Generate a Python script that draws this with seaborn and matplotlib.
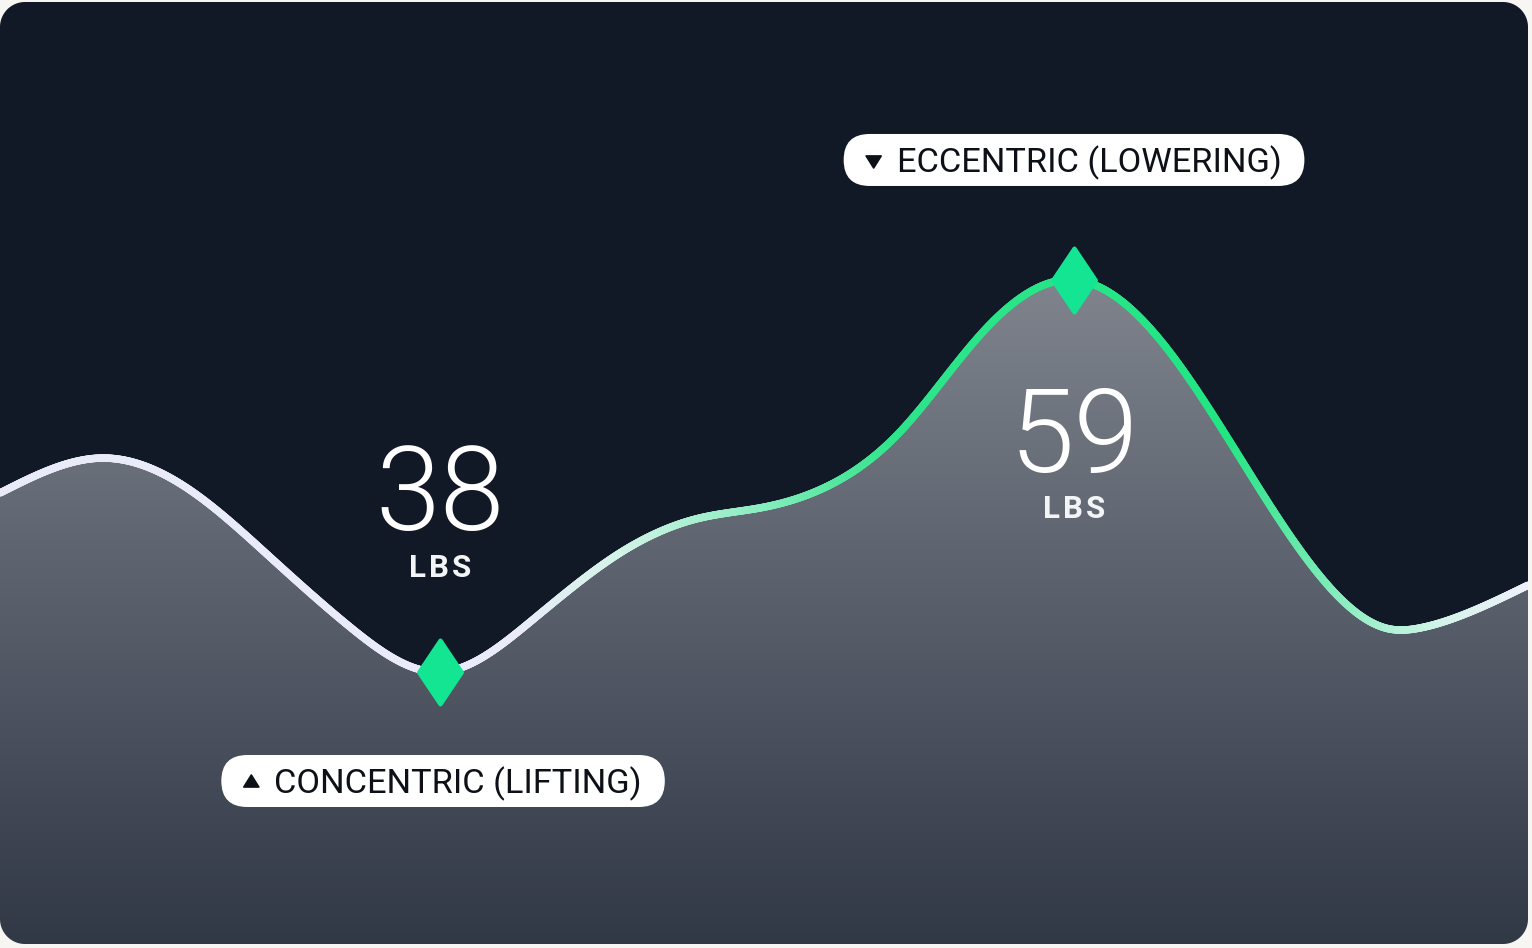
import numpy as np
import pandas as pd
import matplotlib
matplotlib.use("Agg")
import matplotlib.pyplot as plt
import seaborn as sns
from matplotlib.collections import LineCollection
from matplotlib.colors import LinearSegmentedColormap
from matplotlib.path import Path
from matplotlib.patches import PathPatch, FancyBboxPatch, Polygon
from matplotlib.transforms import IdentityTransform

# ---------------- data ----------------
rep_progress = [0.00, 6.74, 12.43, 17.67, 22.91, 28.80, 34.69, 40.58, 45.81, 49.74,
                54.32, 58.90, 64.14, 70.29, 75.92, 81.81, 86.39, 90.97, 92.93, 95.55,
                100.00]
load_lbs = [47.59, 49.46, 47.75, 44.16, 40.41, 38.00, 40.68, 44.38, 46.25, 46.79,
            48.02, 50.86, 56.05, 59.00, 55.79, 48.61, 43.14, 40.30, 40.36, 41.00,
            42.65]

phase_labels = ["CONCENTRIC (LIFTING)", "ECCENTRIC (LOWERING)"]
phase_x = [28.80, 70.29]
phase_lbs = [38, 59]
phase_dir = ["up", "down"]
unit_label = "LBS"

# ---------------- style ----------------
sns.set_theme(style="white")
plt.rcParams["font.family"] = ["Roboto", "DejaVu Sans"]

NAVY = "#111927"
OUTSIDE = "#f7f6f3"
GREEN_MARK = "#14e592"

W, H = 1532, 948
fig = plt.figure(figsize=(W / 100, H / 100), dpi=100)
fig.patch.set_facecolor(OUTSIDE)

card_l, card_r, card_b, card_t = 0, 1528, 4, 946
ax = fig.add_axes([card_l / W, card_b / H, (card_r - card_l) / W, (card_t - card_b) / H])
ax.set_facecolor(NAVY)
XLIM, YLIM = (0, 100), (23.43, 73.89)
ax.set_xlim(*XLIM)
ax.set_ylim(*YLIM)
sns.despine(ax=ax, left=True, bottom=True, top=True, right=True)
ax.set_xticks([])
ax.set_yticks([])


# natural cubic spline through the read points (smooth rendering of the line)
def cspline(x, y, n=2000):
    x = np.asarray(x, float)
    y = np.asarray(y, float)
    k = len(x)
    h = np.diff(x)
    A = np.zeros((k, k))
    b = np.zeros(k)
    A[0, 0] = A[-1, -1] = 1.0
    for i in range(1, k - 1):
        A[i, i - 1] = h[i - 1]
        A[i, i] = 2 * (h[i - 1] + h[i])
        A[i, i + 1] = h[i]
        b[i] = 3 * ((y[i + 1] - y[i]) / h[i] - (y[i] - y[i - 1]) / h[i - 1])
    c = np.linalg.solve(A, b)
    bc = (y[1:] - y[:-1]) / h - h * (2 * c[:-1] + c[1:]) / 3
    dc = (c[1:] - c[:-1]) / (3 * h)
    xs = np.linspace(x[0], x[-1], n)
    idx = np.clip(np.searchsorted(x, xs, side="right") - 1, 0, k - 2)
    dx = xs - x[idx]
    ys = y[idx] + bc[idx] * dx + c[idx] * dx**2 + dc[idx] * dx**3
    return xs, ys


xs, ys = cspline(rep_progress, load_lbs)
ybot = YLIM[0]

# gradient fill under the curve
poly = ax.fill_between(xs, ys, ybot, facecolor="none", edgecolor="none", zorder=1)
fill_cmap = LinearSegmentedColormap.from_list("fill", ["#313846", "#81868f"])
grad = np.linspace(0, 1, 256).reshape(-1, 1)
im = ax.imshow(grad, cmap=fill_cmap, origin="lower", aspect="auto",
               extent=[XLIM[0], XLIM[1], ybot, 60.07], zorder=1, interpolation="bicubic")
im.set_clip_path(poly.get_paths()[0], transform=ax.transData)
ax.set_xlim(*XLIM)
ax.set_ylim(*YLIM)

# gradient-coloured line
line_cmap = LinearSegmentedColormap.from_list("line", [
    (0.00, "#e9ecf8"), (0.34, "#e9ecf8"), (0.406, "#d3f4e7"), (0.458, "#a8efd0"),
    (0.497, "#8cedc2"), (0.543, "#5be8a3"), (0.589, "#2ee48a"), (0.805, "#22e584"),
    (0.851, "#63e9a9"), (0.91, "#aef1d4"), (0.949, "#d5f4ea"), (1.00, "#eef0fa")])
pts = np.column_stack([xs, ys]).reshape(-1, 1, 2)
segs = np.concatenate([pts[:-1], pts[1:]], axis=1)
mids = (xs[:-1] + xs[1:]) / 2 / 100
lc = LineCollection(segs, colors=line_cmap(mids), linewidths=5.4,
                    capstyle="round", joinstyle="round", zorder=3)
ax.add_collection(lc)

# diamond markers
diamond = Path([(0, 1), (0.67, 0), (0, -1), (-0.67, 0), (0, 1)],
               [Path.MOVETO, Path.LINETO, Path.LINETO, Path.LINETO, Path.CLOSEPOLY])
sns.scatterplot(x=phase_x, y=phase_lbs, marker=diamond, s=46**2, color=GREEN_MARK,
                edgecolor=GREEN_MARK, linewidth=3, joinstyle="round",
                ax=ax, zorder=6, legend=False)

renderer = fig.canvas.get_renderer()


def tracked_text(s, xy, off_y, size, weight, color, tracking):
    widths = []
    for ch in s:
        tmp = ax.text(0, 0, ch, fontsize=size, fontweight=weight,
                      transform=IdentityTransform())
        widths.append(tmp.get_window_extent(renderer).width)
        tmp.remove()
    total = sum(widths) + tracking * (len(s) - 1)
    x0 = -total / 2
    for ch, w in zip(s, widths):
        ax.annotate(ch, xy=xy, xytext=(x0, off_y), textcoords="offset pixels",
                    ha="left", va="baseline", fontsize=size, fontweight=weight,
                    color=color, zorder=5)
        x0 += w + tracking


# value labels
for x, v, d in zip(phase_x, phase_lbs, phase_dir):
    big_off, unit_off = (142, 95) if d == "up" else (-192, -238)
    ax.annotate(f"{v}", xy=(x, v), xytext=(0, big_off), textcoords="offset pixels",
                ha="center", va="baseline", fontsize=84, fontweight=300,
                color="white", zorder=5)
    tracked_text(unit_label, (x, v), unit_off, 22.5, "bold", "#f3f4f6", 3)

# phase pills
for label, x, v, d in zip(phase_labels, phase_x, phase_lbs, phase_dir):
    cx, cy = ax.transData.transform((x, v))
    pcy = cy - 109 if d == "up" else cy + 120
    t = ax.text(0, 0, label, transform=IdentityTransform(), fontsize=24.75,
                color="#0d1117", ha="left", va="baseline", zorder=9)
    tw = t.get_window_extent(renderer).width
    pad_l, tri_w, gap, pad_r, ph = 22, 16, 15, 23, 52
    pw = pad_l + tri_w + gap + tw + pad_r
    left = cx - pw / 2 + (3 if d == "up" else 0)
    pill = FancyBboxPatch((left, pcy - ph / 2), pw, ph,
                          boxstyle=f"round,pad=0,rounding_size={ph / 2}",
                          transform=IdentityTransform(), fc="white", ec="none", zorder=8)
    ax.add_artist(pill)
    t.set_position((left + pad_l + tri_w + gap, pcy - 12))
    tcx = left + pad_l + tri_w / 2
    if d == "up":
        verts = [(tcx, pcy + 6), (tcx - 7.5, pcy - 6), (tcx + 7.5, pcy - 6)]
    else:
        verts = [(tcx, pcy - 8), (tcx - 7.5, pcy + 4), (tcx + 7.5, pcy + 4)]
    tri = Polygon(verts, closed=True, transform=IdentityTransform(), fc="#0d1117",
                  ec="#0d1117", lw=1.2, joinstyle="round", zorder=9)
    ax.add_artist(tri)

# rounded card corners
r = 25
corners = [((card_l + r, card_t - r), 90, (card_l - 2, card_t + 2)),
           ((card_r - r, card_t - r), 0, (card_r + 2, card_t + 2)),
           ((card_l + r, card_b + r), 180, (card_l - 2, card_b - 2)),
           ((card_r - r, card_b + r), 270, (card_r + 2, card_b - 2))]
for (ccx, ccy), a0, corner in corners:
    th = np.radians(np.linspace(a0, a0 + 90, 40))
    arc = np.column_stack([ccx + r * np.cos(th), ccy + r * np.sin(th)])
    verts = np.vstack([[corner], arc, [corner]])
    fig.add_artist(PathPatch(Path(verts), transform=IdentityTransform(),
                             fc=OUTSIDE, ec="none", zorder=20))

fig.savefig("out.png", dpi=100, facecolor=OUTSIDE)
